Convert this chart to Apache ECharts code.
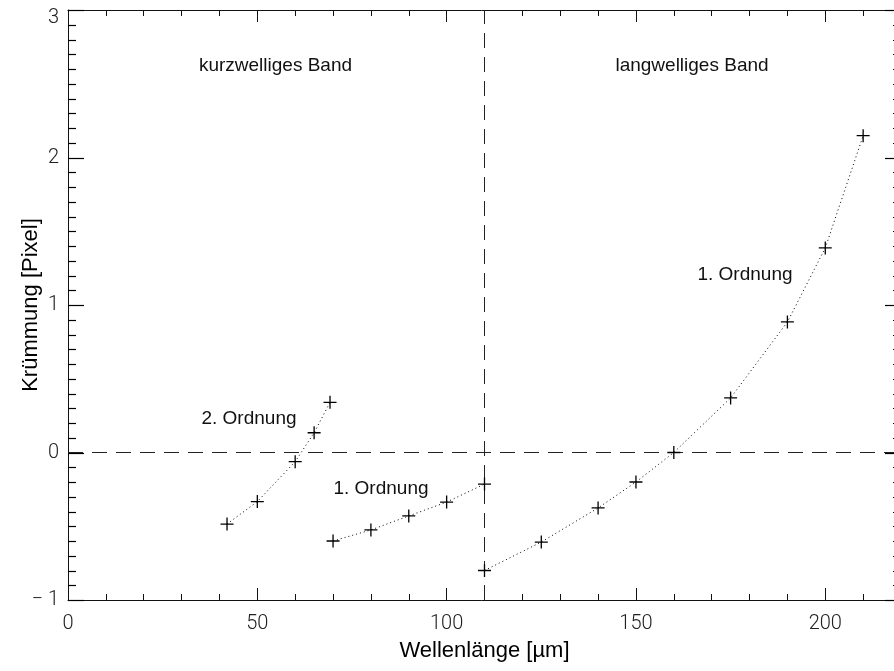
<!DOCTYPE html>
<html><head><meta charset="utf-8">
<script src="https://cdn.jsdelivr.net/npm/echarts@6/dist/echarts.min.js"></script>
<style>html,body{margin:0;padding:0;background:#fff}#c{width:894px;height:671px}</style>
</head><body><div id="c"></div>
<script>
// Data
const kurz2X = [42, 50, 60, 65, 69.2];
const kurz2Y = [-0.485, -0.333, -0.062, 0.134, 0.340];
const kurz1X = [70, 80, 90, 100, 110];
const kurz1Y = [-0.600, -0.525, -0.430, -0.336, -0.214];
const langX = [110, 125, 140, 150, 160, 175, 190, 200, 210];
const langY = [-0.800, -0.607, -0.376, -0.200, 0.000, 0.370, 0.885, 1.387, 2.148];
const xTicks = [0, 50, 100, 150, 200];
const xRange = [0, 220];
const yTicks = [-1, 0, 1, 2, 3];
const yMinorStep = 0.1;
const bandBoundary = 110;
const zeroLevel = 0;
const annotations = ['kurzwelliges Band', 'langwelliges Band', '2. Ordnung', '1. Ordnung', '1. Ordnung'];

// y tick values: every 0.1 (minor) plus the labelled ones (major)
const yAllTicks = [];
for (let k = 0; k <= (yTicks[yTicks.length - 1] - yTicks[0]) / yMinorStep + 1e-9; k++) {
  yAllTicks.push(+(yTicks[0] + k * yMinorStep).toFixed(2));
}

const pts = (xs, ys) => xs.map((x, i) => [x, ys[i]]);
const plus = 'path://M5.4,0H6.6V5.4H12V6.6H6.6V12H5.4V6.6H0V5.4H5.4Z';
const tickFont = {fontFamily: 'Roboto', fontWeight: 300, fontSize: 20, color: '#222'};
const lineCol = '#111';

const chart = echarts.init(document.getElementById('c'), null, {renderer: 'canvas'});
const seriesBase = {
  type: 'line', symbol: plus, symbolSize: 13,
  itemStyle: {color: '#000'},
  lineStyle: {type: [1, 3], width: 1, color: '#000'},
  silent: true, animation: false, z: 5
};
const xCommon = {type: 'value', min: xRange[0], max: xRange[1], splitLine: {show: false}};
const yCommon = {type: 'value', min: yTicks[0], max: yTicks[yTicks.length - 1], splitLine: {show: false}};
const aLine = {show: true, onZero: false, lineStyle: {color: lineCol, width: 1}};
const noLine = {show: false, onZero: false};
const ticks = len => ({show: true, inside: true, length: len, lineStyle: {color: lineCol}});
const MINOR_LEN = 8, MAJOR_LEN = 16;
chart.setOption({
  animation: false,
  grid: {left: 68, top: 10, width: 833, height: 590, containLabel: false, outerBoundsMode: 'none'},
  xAxis: [
    Object.assign({}, xCommon, {position: 'bottom', interval: 50,
      axisLine: aLine, axisTick: ticks(12),
      axisLabel: Object.assign({margin: 14, showMaxLabel: false,
        formatter: v => xTicks.indexOf(v) >= 0 ? String(v) : ''}, tickFont),
      name: 'Wellenlänge [µm]', nameLocation: 'middle', nameGap: 40, nameMoveOverlap: false,
      nameTextStyle: {fontFamily: 'Liberation Sans', fontSize: 22, color: '#000'}}),
    Object.assign({}, xCommon, {position: 'bottom', interval: 10,
      axisLine: noLine, axisLabel: {show: false}, axisTick: ticks(6)}),
    Object.assign({}, xCommon, {position: 'top', interval: 50,
      axisLine: aLine, axisLabel: {show: false}, axisTick: ticks(12)}),
    Object.assign({}, xCommon, {position: 'top', interval: 10,
      axisLine: noLine, axisLabel: {show: false}, axisTick: ticks(6)})
  ],
  yAxis: [
    Object.assign({}, yCommon, {position: 'left', interval: 1,
      axisLine: aLine, axisTick: {show: false},
      axisLabel: Object.assign({margin: 9,
        formatter: v => v === 3 ? '{top|3}' : (v < 0 ? '\u2212 ' + Math.abs(v) : String(v)),
        rich: {top: Object.assign({padding: [16, 0, 0, 0]}, tickFont)}}, tickFont),
      name: 'Krümmung [Pixel]', nameLocation: 'middle', nameGap: 26, nameRotate: 90, nameMoveOverlap: false,
      nameTextStyle: {fontFamily: 'Liberation Sans', fontSize: 22, color: '#000'}}),
    Object.assign({}, yCommon, {position: 'right', interval: 1,
      axisLine: aLine, axisLabel: {show: false}, axisTick: {show: false}})
  ],
  series: [
    {
      type: 'custom', name: 'y-ticks', silent: true, animation: false, clip: false,
      z: 50, zlevel: 1,
      xAxisIndex: 0, yAxisIndex: 0,
      data: yAllTicks.map(v => [xRange[0], v]),
      encode: {x: 0, y: 1},
      renderItem: (params, api) => {
        const v = api.value(1);
        const len = yTicks.indexOf(v) >= 0 ? MAJOR_LEN : MINOR_LEN;
        const pl = api.coord([xRange[0], v]);
        const pr = api.coord([xRange[1], v]);
        const y = Math.round(pl[1]) + 0.5;
        const xl = Math.round(pl[0]), xr = Math.round(pr[0]);
        const st = {stroke: '#000', lineWidth: 1.2};
        return {type: 'group', children: [
          {type: 'line', shape: {x1: xl, y1: y, x2: xl + len, y2: y}, style: st},
          {type: 'line', shape: {x1: xr - len, y1: y, x2: xr, y2: y}, style: st}
        ]};
      }
    },
    Object.assign({}, seriesBase, {name: '2. Ordnung kurz', data: pts(kurz2X, kurz2Y)}),
    Object.assign({}, seriesBase, {name: '1. Ordnung kurz', data: pts(kurz1X, kurz1Y)}),
    Object.assign({}, seriesBase, {name: '1. Ordnung lang', data: pts(langX, langY),
      markLine: {silent: true, symbol: 'none', animation: false,
        label: {show: false},
        lineStyle: {type: [15, 9], width: 1, color: '#222'},
        data: [{xAxis: bandBoundary}, {yAxis: zeroLevel}]}})
  ],
  graphic: [
    [annotations[0], 275.5, 66], [annotations[1], 692, 66],
    [annotations[2], 249, 419], [annotations[3], 381, 489], [annotations[4], 745, 275]
  ].map(a => ({type: 'text', x: a[1], y: a[2], silent: true, z: 10,
    style: {text: a[0], align: 'center', verticalAlign: 'middle',
      font: '19px "Liberation Sans"', fill: '#111'}}))
});
</script></body></html>
